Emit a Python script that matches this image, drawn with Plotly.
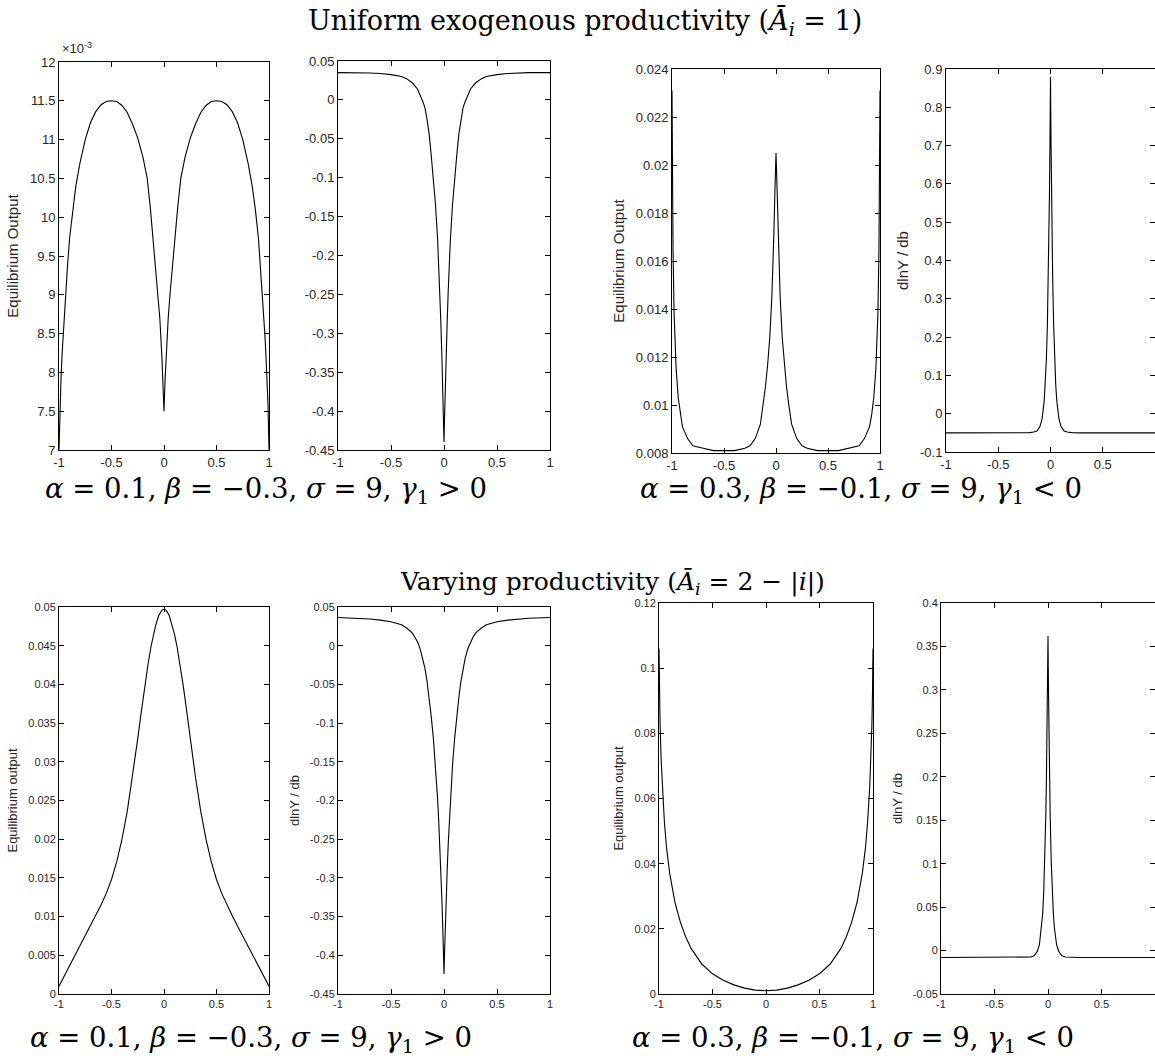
import plotly.graph_objects as go

W, H = 1155, 1061

# ---------------- data ----------------
# Panel 1: uniform productivity, alpha=0.1, beta=-0.3 : equilibrium output (x 1e-3)
x_p1 = [-1, -0.99, -0.98, -0.97, -0.96, -0.94, -0.92, -0.9, -0.87, -0.84, -0.8, -0.75,
        -0.7, -0.65, -0.6, -0.55, -0.5, -0.45, -0.4, -0.35, -0.3, -0.25, -0.2, -0.16,
        -0.13, -0.1, -0.08, -0.06, -0.04, -0.02, -0.01, 0,
        0.01, 0.02, 0.04, 0.06, 0.08, 0.1, 0.13, 0.16, 0.2, 0.25, 0.3, 0.35, 0.4, 0.45,
        0.5, 0.55, 0.6, 0.65, 0.7, 0.75, 0.8, 0.84, 0.87, 0.9, 0.92, 0.94, 0.96, 0.97,
        0.98, 0.99, 1]
y_p1 = [7.00, 7.60, 7.95, 8.25, 8.50, 8.95, 9.35, 9.72, 10.10, 10.40, 10.70, 11.00,
        11.22, 11.36, 11.45, 11.49, 11.50, 11.49, 11.44, 11.35, 11.20, 11.02, 10.77, 10.50,
        10.12, 9.68, 9.38, 9.05, 8.70, 8.20, 7.90, 7.50,
        7.90, 8.20, 8.70, 9.05, 9.38, 9.68, 10.12, 10.50, 10.77, 11.02, 11.20, 11.35, 11.44,
        11.49, 11.50, 11.49, 11.45, 11.36, 11.22, 11.00, 10.70, 10.40, 10.10, 9.72, 9.35,
        8.95, 8.50, 8.25, 7.95, 7.60, 7.00]

# Panel 2: dlnY/db
x_p2 = [-1, -0.8, -0.7, -0.6, -0.5, -0.4, -0.35, -0.3, -0.25, -0.2, -0.18, -0.16, -0.14,
        -0.12, -0.1, -0.08, -0.06, -0.05, -0.04, -0.03, -0.02, -0.01, -0.005, 0,
        0.005, 0.01, 0.02, 0.03, 0.04, 0.05, 0.06, 0.08, 0.1, 0.12, 0.14, 0.16,
        0.18, 0.2, 0.25, 0.3, 0.35, 0.4, 0.5, 0.6, 0.7, 0.8, 1]
y_p2 = [0.035, 0.035, 0.0345, 0.034, 0.0325, 0.030, 0.027, 0.022, 0.014, -0.002, -0.010,
        -0.025, -0.044, -0.072, -0.100, -0.135, -0.180, -0.210, -0.245, -0.285, -0.330,
        -0.380, -0.410, -0.440,
        -0.410, -0.380, -0.330, -0.285, -0.245, -0.210, -0.180, -0.135, -0.100, -0.072,
        -0.044, -0.025, -0.010, -0.002, 0.014, 0.022, 0.027, 0.030, 0.0325, 0.034, 0.0345,
        0.035, 0.035]

# Panel 3: alpha=0.3, beta=-0.1 : equilibrium output
x_p3 = [-1, -0.995, -0.99, -0.98, -0.96, -0.94, -0.92, -0.9, -0.85, -0.8, -0.7, -0.6,
        -0.4, -0.3, -0.25, -0.2, -0.15, -0.12, -0.1, -0.08, -0.06, -0.04, -0.03, -0.02,
        -0.01, -0.005, 0, 0.005, 0.01, 0.02, 0.03, 0.04, 0.06, 0.08, 0.1, 0.12, 0.15,
        0.2, 0.25, 0.3, 0.4, 0.6, 0.7, 0.8, 0.85, 0.9, 0.92, 0.94, 0.96, 0.98, 0.99,
        0.995, 1]
y_p3 = [0.0231, 0.0190, 0.0165, 0.0138, 0.0115, 0.0103, 0.0096, 0.0091, 0.0086, 0.0083,
        0.0082, 0.0081, 0.0081, 0.0082, 0.0083, 0.0086, 0.0092, 0.0101, 0.0108, 0.0117,
        0.0128, 0.0145, 0.0157, 0.0172, 0.0190, 0.0198, 0.0205, 0.0198, 0.0190, 0.0172,
        0.0157, 0.0145, 0.0128, 0.0117, 0.0108, 0.0101, 0.0092, 0.0086, 0.0083, 0.0082,
        0.0081, 0.0081, 0.0082, 0.0083, 0.0086, 0.0091, 0.0096, 0.0103, 0.0115, 0.0138,
        0.0165, 0.0190, 0.0231]

# Panel 4: dlnY/db
x_p4 = [-1, -0.3, -0.2, -0.16, -0.13, -0.1, -0.08, -0.06, -0.05, -0.04, -0.03, -0.02,
        -0.015, -0.01, -0.005, -0.0025, 0, 0.0025, 0.005, 0.01, 0.015, 0.02, 0.03, 0.04,
        0.05, 0.06, 0.08, 0.1, 0.13, 0.16, 0.2, 0.3, 1]
y_p4 = [-0.050, -0.050, -0.0495, -0.048, -0.045, -0.033, -0.012, 0.034, 0.076, 0.138,
        0.230, 0.368, 0.460, 0.573, 0.712, 0.790, 0.880, 0.790, 0.712, 0.573, 0.460,
        0.368, 0.230, 0.138, 0.076, 0.034, -0.012, -0.033, -0.045, -0.048, -0.0495,
        -0.050, -0.050]

# Panel 5: varying productivity, alpha=0.1, beta=-0.3 : equilibrium output
x_p5 = [-1, -0.95, -0.9, -0.85, -0.8, -0.75, -0.7, -0.65, -0.6, -0.55, -0.5, -0.45, -0.4,
        -0.35, -0.3, -0.25, -0.22, -0.2, -0.18, -0.15, -0.125, -0.1, -0.08, -0.05, -0.02,
        0, 0.02, 0.05, 0.08, 0.1, 0.125, 0.15, 0.18, 0.2, 0.22, 0.25, 0.3, 0.35, 0.4,
        0.45, 0.5, 0.55, 0.6, 0.65, 0.7, 0.75, 0.8, 0.85, 0.9, 0.95, 1]
y_p5 = [0.0010, 0.0023, 0.0036, 0.0049, 0.0062, 0.0075, 0.0088, 0.0101, 0.0115, 0.0130,
        0.0148, 0.0171, 0.0200, 0.0236, 0.0280, 0.0330, 0.0361, 0.0382, 0.0401, 0.0428,
        0.0448, 0.0465, 0.0476, 0.0489, 0.0496, 0.0497, 0.0496, 0.0489, 0.0476, 0.0465,
        0.0448, 0.0428, 0.0401, 0.0382, 0.0361, 0.0330, 0.0280, 0.0236, 0.0200, 0.0171,
        0.0148, 0.0130, 0.0115, 0.0101, 0.0088, 0.0075, 0.0062, 0.0049, 0.0036, 0.0023,
        0.0010]

# Panel 6: dlnY/db
x_p6 = [-1, -0.8, -0.7, -0.6, -0.5, -0.4, -0.35, -0.3, -0.275, -0.25, -0.225, -0.2, -0.18,
        -0.16, -0.14, -0.12, -0.1, -0.08, -0.06, -0.05, -0.04, -0.03, -0.02, -0.01, -0.005,
        0, 0.005, 0.01, 0.02, 0.03, 0.04, 0.05, 0.06, 0.08, 0.1, 0.12, 0.14, 0.16, 0.18,
        0.2, 0.225, 0.25, 0.275, 0.3, 0.35, 0.4, 0.5, 0.6, 0.7, 0.8, 1]
y_p6 = [0.0365, 0.0355, 0.0345, 0.033, 0.031, 0.027, 0.0225, 0.0165, 0.0115, 0.005,
        -0.004, -0.016, -0.029, -0.046, -0.067, -0.092, -0.120, -0.155, -0.199, -0.226,
        -0.256, -0.290, -0.328, -0.372, -0.398, -0.424,
        -0.398, -0.372, -0.328, -0.290, -0.256, -0.226, -0.199, -0.155, -0.120, -0.092,
        -0.067, -0.046, -0.029, -0.016, -0.004, 0.005, 0.0115, 0.0165, 0.0225, 0.027,
        0.031, 0.033, 0.0345, 0.0355, 0.0365]

# Panel 7: alpha=0.3, beta=-0.1 : equilibrium output
x_p7 = [-1, -0.995, -0.99, -0.98, -0.97, -0.95, -0.93, -0.9, -0.85, -0.8, -0.75, -0.7,
        -0.6, -0.5, -0.4, -0.3, -0.2, -0.1, 0, 0.1, 0.2, 0.3, 0.4, 0.5, 0.6, 0.7, 0.75,
        0.8, 0.85, 0.9, 0.93, 0.95, 0.97, 0.98, 0.99, 0.995, 1]
y_p7 = [0.106, 0.092, 0.083, 0.072, 0.064, 0.053, 0.045, 0.037, 0.028, 0.022, 0.0175,
        0.014, 0.0092, 0.0062, 0.0042, 0.0028, 0.0018, 0.0012, 0.0010, 0.0012, 0.0018,
        0.0028, 0.0042, 0.0062, 0.0092, 0.014, 0.0175, 0.022, 0.028, 0.037, 0.045, 0.053,
        0.064, 0.072, 0.083, 0.092, 0.106]

# Panel 8: dlnY/db
x_p8 = [-1, -0.3, -0.2, -0.16, -0.13, -0.1, -0.08, -0.06, -0.05, -0.04, -0.03, -0.02,
        -0.015, -0.01, -0.005, -0.0025, 0, 0.0025, 0.005, 0.01, 0.015, 0.02, 0.03, 0.04,
        0.05, 0.06, 0.08, 0.1, 0.13, 0.16, 0.2, 0.3, 1]
y_p8 = [-0.008, -0.008, -0.0078, -0.0074, -0.006, -0.001, 0.007, 0.026, 0.042, 0.067,
        0.103, 0.158, 0.195, 0.240, 0.295, 0.327, 0.362, 0.327, 0.295, 0.240, 0.195,
        0.158, 0.103, 0.067, 0.042, 0.026, 0.007, -0.001, -0.006, -0.0074, -0.0078,
        -0.008, -0.008]

x_ticks = [-1, -0.5, 0, 0.5, 1]
x_ticktext = ["-1", "-0.5", "0", "0.5", "1"]

titles = ["Uniform exogenous productivity (<i>Ā</i><sub><i>i</i></sub> = 1)",
          "Varying productivity (<i>Ā</i><sub><i>i</i></sub> = 2 − |<i>i</i>|)"]
captions = [
    "<i>α</i> = 0.1, <i>β</i> = −0.3, <i>σ</i> = 9, <i>γ</i><sub>1</sub> &gt; 0",
    "<i>α</i> = 0.3, <i>β</i> = −0.1, <i>σ</i> = 9, <i>γ</i><sub>1</sub> &lt; 0",
]

# ---------------- layout helpers ----------------
def fmt(v):
    s = ("%.4f" % v).rstrip("0").rstrip(".")
    if s == "-0":
        s = "0"
    return s

panels = [
    # (x, y, px box left, top, right, bottom, yrange, ydtick, ytitle, ticksize)
    (x_p1, y_p1, 59, 62, 269, 450, (7, 12), 0.5, "Equilibrium Output", 13),
    (x_p2, y_p2, 338, 61, 550, 450, (-0.45, 0.05), 0.05, "", 13),
    (x_p3, y_p3, 672, 69, 880, 453, (0.008, 0.024), 0.002, "Equilibrium Output", 13),
    (x_p4, y_p4, 946, 69, 1155, 452, (-0.1, 0.9), 0.1, "dlnY / db", 13),
    (x_p5, y_p5, 59, 607, 269, 994, (0, 0.05), 0.005, "Equilibrium output", 11),
    (x_p6, y_p6, 338, 607, 550, 994, (-0.45, 0.05), 0.05, "dlnY / db", 11),
    (x_p7, y_p7, 659, 603, 873, 994, (0, 0.12), 0.02, "Equilibrium output", 11),
    (x_p8, y_p8, 941, 603, 1155, 994, (-0.05, 0.4), 0.05, "dlnY / db", 11),
]

SANS = "Liberation Sans, Arial, Helvetica"
SERIF = "DejaVu Serif, serif"

fig = go.Figure()
layout = dict(width=W, height=H, margin=dict(l=0, r=0, t=0, b=0, autoexpand=False),
              paper_bgcolor="white", plot_bgcolor="white", showlegend=False)
annotations = []

for i, (xs, ys, L, T, R, B, yr, dy, ytitle, fs) in enumerate(panels):
    n = i + 1
    xa = "xaxis" if n == 1 else "xaxis%d" % n
    ya = "yaxis" if n == 1 else "yaxis%d" % n
    xref = "x" if n == 1 else "x%d" % n
    yref = "y" if n == 1 else "y%d" % n
    fig.add_trace(go.Scatter(x=xs, y=ys, mode="lines", xaxis=xref, yaxis=yref,
                             line=dict(color="black", width=1.1), hoverinfo="skip"))
    nt = int(round((yr[1] - yr[0]) / dy))
    yt = [yr[0] + k * dy for k in range(nt + 1)]
    common = dict(showline=True, linecolor="black", linewidth=1, mirror="ticks",
                  ticks="inside", ticklen=5, tickcolor="black", tickwidth=1,
                  showgrid=False, zeroline=False, automargin=False,
                  tickfont=dict(family=SANS, size=fs, color="#262626"))
    layout[xa] = dict(common, domain=[L / W, min(R / W, 1.0)], range=[-1, 1],
                      tickvals=x_ticks, ticktext=x_ticktext, anchor=yref)
    layout[ya] = dict(common, domain=[1 - B / H, 1 - T / H], range=list(yr), tickvals=yt,
                      ticktext=[fmt(v) for v in yt], anchor=xref)
    if ytitle:
        layout[ya]["title"] = dict(text=ytitle, standoff=7,
                                   font=dict(family=SANS, size=round(fs * 1.1) + 1,
                                             color="#262626"))

annotations.append(dict(text="×10<sup>-3</sup>", x=60 / W, y=1 - 58 / H, xref="paper",
                        yref="paper", xanchor="left", yanchor="bottom", showarrow=False,
                        font=dict(family=SANS, size=13, color="#262626")))

for t, cx, yy, fsz in zip(titles, [585, 612], [22, 583], [27, 25]):
    annotations.append(dict(text=t, x=cx / W, y=1 - yy / H, xref="paper", yref="paper",
                            xanchor="center", yanchor="middle", showarrow=False,
                            font=dict(family=SERIF, size=fsz, color="black")))
for yy, cxs in [(490, [266, 861]), (1039, [251, 853])]:
    for c, cx in zip(captions, cxs):
        annotations.append(dict(text=c, x=cx / W, y=1 - yy / H, xref="paper", yref="paper",
                                xanchor="center", yanchor="middle", showarrow=False,
                                font=dict(family=SERIF, size=27.5, color="black")))

layout["annotations"] = annotations
fig.update_layout(**layout)
fig.write_html("out.html", config={"displayModeBar": False, "staticPlot": True},
               post_script="document.body.style.margin='0px';"
                           "document.body.style.overflow='hidden';")
